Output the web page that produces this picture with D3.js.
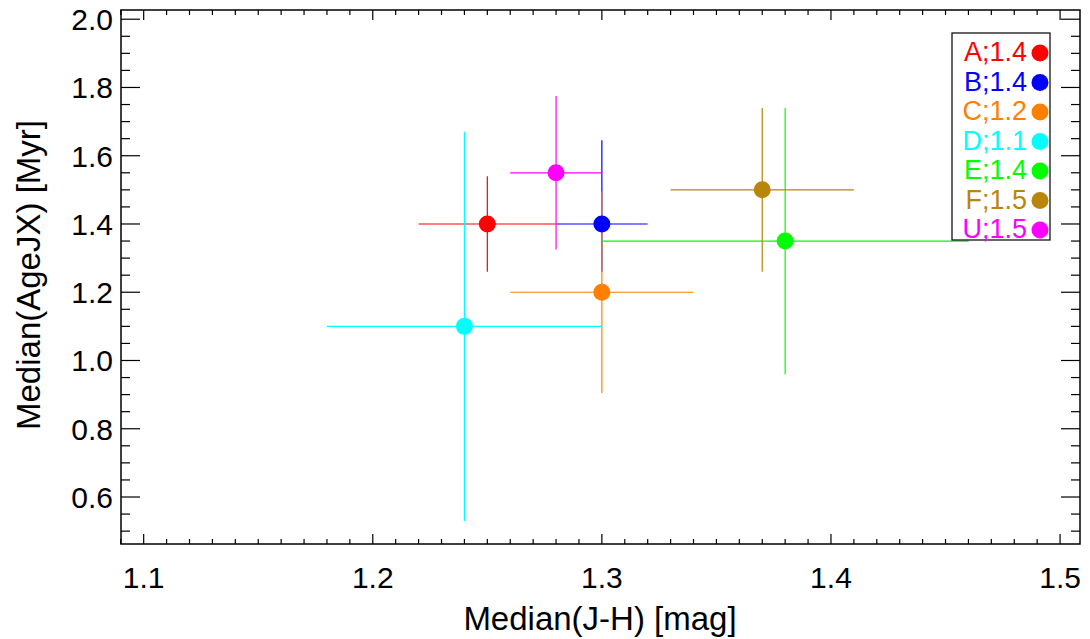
<!DOCTYPE html>
<html><head><meta charset="utf-8">
<script src="https://cdn.jsdelivr.net/npm/d3@7"></script>
<style>body{margin:0;background:#fff}text{font-family:"Liberation Sans",Arial,sans-serif}</style>
</head><body><svg id="c" width="1090" height="639"></svg>
<script>
const labels = ['A;1.4','B;1.4','C;1.2','D;1.1','E;1.4','F;1.5','U;1.5'];
const colors = ['#ff0000','#0000ff','#ff8000','#00ffff','#00ff00','#b8860b','#ff00ff'];
const xVals = [1.25, 1.30, 1.30, 1.24, 1.38, 1.37, 1.28];
const yVals = [1.40, 1.40, 1.20, 1.10, 1.35, 1.50, 1.55];
const xLo = [1.22, 1.28, 1.26, 1.18, 1.30, 1.33, 1.26];
const xHi = [1.28, 1.32, 1.34, 1.30, 1.46, 1.41, 1.30];
const yLo = [1.26, 1.26, 0.905, 0.53, 0.96, 1.26, 1.325];
const yHi = [1.54, 1.645, 1.495, 1.67, 1.74, 1.74, 1.775];
const xTicks = [1.1, 1.2, 1.3, 1.4, 1.5];
const yTicks = [0.6, 0.8, 1.0, 1.2, 1.4, 1.6, 1.8, 2.0];

const L = 121, R = 1080, T = 10, B = 544;
const svg = d3.select('#c');
const x = d3.scaleLinear().domain([1.0901, 1.5087]).range([L, R]);
const y = d3.scaleLinear().domain([0.4623, 2.027]).range([B, T]);

svg.append('rect').attr('x', L).attr('y', T).attr('width', R - L).attr('height', B - T)
  .attr('fill', 'none').attr('stroke', '#000').attr('stroke-width', 1.5);

const g = svg.append('g').attr('stroke', '#000').attr('stroke-width', 1.2);
d3.range(1.09, 1.509, 0.01).forEach(v => {
  const major = xTicks.some(t => Math.abs(t - v) < 1e-6);
  const len = major ? 10 : 5;
  g.append('line').attr('x1', x(v)).attr('x2', x(v)).attr('y1', B).attr('y2', B - len);
  g.append('line').attr('x1', x(v)).attr('x2', x(v)).attr('y1', T).attr('y2', T + len);
});
d3.range(0.5, 2.027, 0.05).forEach(v => {
  const major = yTicks.some(t => Math.abs(t - v) < 1e-6);
  const len = major ? 19 : 9;
  g.append('line').attr('y1', y(v)).attr('y2', y(v)).attr('x1', L).attr('x2', L + len);
  g.append('line').attr('y1', y(v)).attr('y2', y(v)).attr('x1', R).attr('x2', R - len);
});

xTicks.forEach(v => svg.append('text').attr('x', x(v)).attr('y', 588).attr('text-anchor', 'middle')
  .attr('font-size', 30).text(v.toFixed(1)));
yTicks.forEach(v => svg.append('text').attr('x', 113).attr('y', y(v) + 11).attr('text-anchor', 'end')
  .attr('font-size', 30).text(v.toFixed(1)));
svg.append('text').attr('x', 600).attr('y', 630).attr('text-anchor', 'middle')
  .attr('font-size', 33).text('Median(J-H) [mag]');
svg.append('text').attr('transform', `translate(40,${(T + B) / 2 - 2}) rotate(-90)`).attr('text-anchor', 'middle')
  .attr('font-size', 33).text('Median(AgeJX) [Myr]');

labels.forEach((l, i) => {
  const c = colors[i];
  svg.append('line').attr('x1', x(xLo[i])).attr('x2', x(xHi[i])).attr('y1', y(yVals[i])).attr('y2', y(yVals[i]))
    .attr('stroke', c).attr('stroke-width', 1.2);
  svg.append('line').attr('x1', x(xVals[i])).attr('x2', x(xVals[i])).attr('y1', y(yLo[i])).attr('y2', y(yHi[i]))
    .attr('stroke', c).attr('stroke-width', 1.2);
});
labels.forEach((l, i) => {
  svg.append('circle').attr('cx', x(xVals[i])).attr('cy', y(yVals[i])).attr('r', 8.5).attr('fill', colors[i]);
});

svg.append('rect').attr('x', 952).attr('y', 33).attr('width', 98).attr('height', 207)
  .attr('fill', '#fff').attr('stroke', '#000').attr('stroke-width', 1.2);
labels.forEach((l, i) => {
  const yy = 52 + i * 29.5;
  svg.append('text').attr('x', 1027).attr('y', yy + 9).attr('text-anchor', 'end')
    .attr('font-size', 27).attr('fill', colors[i]).text(l);
  svg.append('circle').attr('cx', 1040).attr('cy', yy + 1).attr('r', 8.5).attr('fill', colors[i]);
});
</script></body></html>
